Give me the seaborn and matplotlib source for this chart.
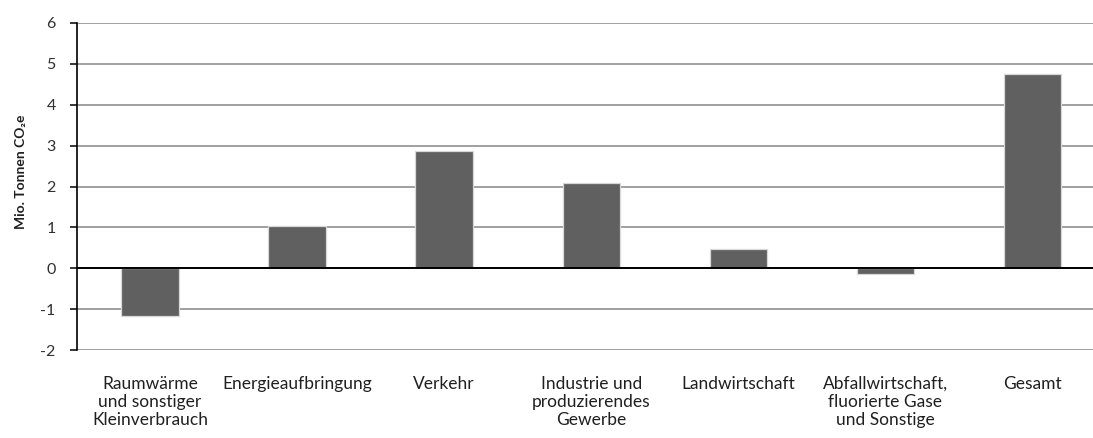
import matplotlib
matplotlib.use("Agg")
import matplotlib.pyplot as plt
import seaborn as sns
import pandas as pd

# Sector categories and change in emissions (Mio. t CO2e)
categories = [
    "Raumwärme\nund sonstiger\nKleinverbrauch",
    "Energieaufbringung",
    "Verkehr",
    "Industrie und\nproduzierendes\nGewerbe",
    "Landwirtschaft",
    "Abfallwirtschaft,\nfluorierte Gase\nund Sonstige",
    "Gesamt",
]
values = [-1.17, 1.04, 2.88, 2.08, 0.46, -0.13, 4.76]
y_ticks = [-2, -1, 0, 1, 2, 3, 4, 5, 6]
y_label = "Mio. Tonnen CO₂e"

sns.set_style("white")
plt.rcParams["font.family"] = ["Lato", "DejaVu Sans"]

df = pd.DataFrame({"Sektor": categories, "Wert": values})

fig = plt.figure(figsize=(10.93, 4.38), dpi=100)
ax = fig.add_axes([0.0700, 0.2009, 0.9418, 0.7466])

sns.barplot(data=df, x="Sektor", y="Wert", color="#606060", width=0.39,
            edgecolor="#d8d8d8", linewidth=0.9, saturation=1, ax=ax, zorder=3)

ax.set_ylim(-2, 6)
ax.set_xlim(-0.5, len(categories) - 0.5)
ax.set_yticks(y_ticks)
ax.set_yticklabels([str(t) for t in y_ticks], fontsize=11.5, color="#303030")
ax.yaxis.grid(True, color="#a0a0a0", linewidth=1.4, zorder=0)
ax.set_axisbelow(True)
ax.axhline(0, color="black", linewidth=1.4, zorder=4)

for side in ["top", "right", "bottom"]:
    ax.spines[side].set_visible(False)
ax.spines["left"].set_color("black")
ax.spines["left"].set_linewidth(1.2)
ax.tick_params(axis="y", which="both", left=True, length=5, width=1.1,
               color="black", pad=10)
ax.tick_params(axis="x", bottom=False, pad=15)
ax.set_xticks(range(len(categories)))
ax.set_xticklabels(categories, fontsize=12.5, color="#202020",
                   linespacing=1.15, va="top")

ax.set_xlabel("")
ax.set_ylabel(y_label, fontsize=10, fontweight="bold", color="#202020")
ax.yaxis.set_label_coords(-0.048, 0.544)

fig.savefig("out.png", dpi=100)
